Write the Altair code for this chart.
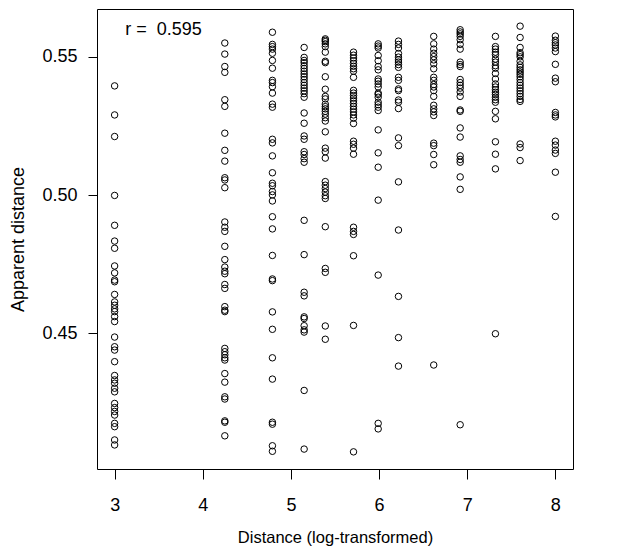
import altair as alt
import pandas as pd

# Distance levels (log-transformed) and apparent-distance values per level
x_levels = [3.0, 4.25, 4.79, 5.15, 5.39, 5.71, 5.99, 6.22, 6.62, 6.92, 7.32, 7.60, 8.0]

y_3_00 = [0.5395, 0.5290, 0.5212, 0.4999, 0.4891, 0.4834, 0.4808, 0.4744, 0.4719, 0.4693,
          0.4687, 0.4641, 0.4614, 0.4602, 0.4589, 0.4579, 0.4561, 0.4543, 0.4487, 0.4452,
          0.4440, 0.4398, 0.4348, 0.4332, 0.4320, 0.4302, 0.4289, 0.4247, 0.4232, 0.4218,
          0.4205, 0.4175, 0.4163, 0.4115, 0.4097]
y_4_25 = [0.5550, 0.5510, 0.5465, 0.5444, 0.5345, 0.5321, 0.5224, 0.5162, 0.5123, 0.5063,
          0.5055, 0.5027, 0.4903, 0.4884, 0.4869, 0.4815, 0.4767, 0.4740, 0.4725, 0.4716,
          0.4677, 0.4663, 0.4597, 0.4584, 0.4579, 0.4446, 0.4434, 0.4423, 0.4412, 0.4404,
          0.4355, 0.4324, 0.4271, 0.4263, 0.4184, 0.4179, 0.4130]
y_4_79 = [0.5589, 0.5545, 0.5537, 0.5528, 0.5513, 0.5487, 0.5459, 0.5415, 0.5407, 0.5392,
          0.5369, 0.5329, 0.5318, 0.5202, 0.5189, 0.5142, 0.5081, 0.5043, 0.5034, 0.5013,
          0.5001, 0.4979, 0.4922, 0.4878, 0.4782, 0.4697, 0.4691, 0.4578, 0.4515, 0.4412,
          0.4335, 0.4179, 0.4172, 0.4094, 0.4074]
y_5_15 = [0.5534, 0.5498, 0.5487, 0.5479, 0.5468, 0.5458, 0.5448, 0.5438, 0.5428, 0.5418,
          0.5407, 0.5397, 0.5387, 0.5377, 0.5367, 0.5354, 0.5297, 0.5260, 0.5214, 0.5202,
          0.5157, 0.5147, 0.5132, 0.5119, 0.4909, 0.4785, 0.4649, 0.4636, 0.4560, 0.4554,
          0.4528, 0.4513, 0.4505, 0.4294, 0.4082]
y_5_39 = [0.5565, 0.5560, 0.5555, 0.5547, 0.5537, 0.5517, 0.5484, 0.5479, 0.5428, 0.5383,
          0.5357, 0.5348, 0.5329, 0.5320, 0.5312, 0.5303, 0.5293, 0.5280, 0.5268, 0.5229,
          0.5170, 0.5157, 0.5134, 0.5049, 0.5036, 0.5024, 0.5011, 0.4998, 0.4988, 0.4886,
          0.4735, 0.4721, 0.4527, 0.4479]
y_5_71 = [0.5517, 0.5506, 0.5496, 0.5486, 0.5476, 0.5466, 0.5457, 0.5448, 0.5426, 0.5379,
          0.5369, 0.5360, 0.5351, 0.5341, 0.5331, 0.5321, 0.5311, 0.5301, 0.5290, 0.5278,
          0.5259, 0.5195, 0.5184, 0.5170, 0.5148, 0.4884, 0.4869, 0.4858, 0.4781, 0.4529,
          0.4072]
y_5_99 = [0.5547, 0.5539, 0.5532, 0.5505, 0.5486, 0.5465, 0.5453, 0.5420, 0.5412, 0.5402,
          0.5391, 0.5369, 0.5364, 0.5354, 0.5336, 0.5327, 0.5318, 0.5306, 0.5236, 0.5153,
          0.5101, 0.4982, 0.4711, 0.4175, 0.4155]
y_6_22 = [0.5557, 0.5545, 0.5532, 0.5512, 0.5499, 0.5489, 0.5481, 0.5472, 0.5462, 0.5426,
          0.5415, 0.5384, 0.5378, 0.5344, 0.5336, 0.5313, 0.5207, 0.5179, 0.5048, 0.4874,
          0.4634, 0.4485, 0.4382]
y_6_62 = [0.5574, 0.5547, 0.5528, 0.5513, 0.5501, 0.5489, 0.5475, 0.5457, 0.5426, 0.5415,
          0.5400, 0.5391, 0.5378, 0.5357, 0.5325, 0.5312, 0.5301, 0.5288, 0.5188, 0.5179,
          0.5147, 0.5110, 0.4386]
y_6_92 = [0.5598, 0.5590, 0.5583, 0.5574, 0.5562, 0.5545, 0.5528, 0.5481, 0.5472, 0.5465,
          0.5418, 0.5407, 0.5397, 0.5387, 0.5373, 0.5357, 0.5308, 0.5303, 0.5243, 0.5210,
          0.5142, 0.5129, 0.5119, 0.5066, 0.5021, 0.4170]
y_7_32 = [0.5574, 0.5537, 0.5528, 0.5517, 0.5508, 0.5492, 0.5481, 0.5468, 0.5459, 0.5440,
          0.5420, 0.5402, 0.5391, 0.5381, 0.5372, 0.5364, 0.5354, 0.5345, 0.5336, 0.5303,
          0.5276, 0.5193, 0.5148, 0.5095, 0.4499]
y_7_60 = [0.5611, 0.5570, 0.5534, 0.5515, 0.5508, 0.5500, 0.5484, 0.5471, 0.5462, 0.5453,
          0.5445, 0.5437, 0.5428, 0.5418, 0.5407, 0.5397, 0.5387, 0.5377, 0.5367, 0.5357,
          0.5346, 0.5339, 0.5185, 0.5172, 0.5125]
y_8_00 = [0.5575, 0.5560, 0.5551, 0.5543, 0.5532, 0.5519, 0.5473, 0.5423, 0.5410, 0.5299,
          0.5290, 0.5283, 0.5195, 0.5181, 0.5163, 0.5151, 0.5083, 0.4923]

y_groups = [y_3_00, y_4_25, y_4_79, y_5_15, y_5_39, y_5_71, y_5_99, y_6_22,
            y_6_62, y_6_92, y_7_32, y_7_60, y_8_00]

x_ticks = [3, 4, 5, 6, 7, 8]
y_ticks = [0.45, 0.50, 0.55]
x_domain = [2.8, 8.2]
y_domain = [0.4010, 0.5673]

annot_text = ["r =\u00a0 0.595"]
annot_x = [3.12]
annot_y = [0.5598]

rows = []
for xv, ys in zip(x_levels, y_groups):
    for yv in ys:
        rows.append({"dist": xv, "app": yv})
df = pd.DataFrame(rows)

FONT = "Liberation Sans"
LABEL_FS = 18

xs = alt.Scale(domain=x_domain, nice=False, zero=False)
ys_ = alt.Scale(domain=y_domain, nice=False, zero=False)

common = dict(grid=False, domain=False, tickColor="black", tickWidth=1,
              labelColor="black", labelFont=FONT, labelFontSize=LABEL_FS,
              titleFont=FONT, titleFontWeight="normal", titleColor="black")

points = alt.Chart(df).mark_point(
    shape="circle", filled=False, color="black", size=42, strokeWidth=1, opacity=1
).encode(
    x=alt.X("dist:Q", scale=xs,
            axis=alt.Axis(values=x_ticks, title="Distance (log-transformed)",
                          tickSize=10, labelPadding=17, titlePadding=15,
                          titleFontSize=16.5, format="d", **common)),
    y=alt.Y("app:Q", scale=ys_,
            axis=alt.Axis(values=y_ticks, title="Apparent distance", format=".2f",
                          tickSize=9, labelPadding=11, titleX=-70,
                          titleFontSize=18, **common)),
)

ann_df = pd.DataFrame({"x": annot_x, "y": annot_y, "t": annot_text})
ann = alt.Chart(ann_df).mark_text(
    align="left", baseline="middle", fontSize=18, font=FONT, color="black"
).encode(x=alt.X("x:Q", scale=xs), y=alt.Y("y:Q", scale=ys_), text="t:N")

chart = alt.layer(points, ann).properties(
    width=476, height=460,
    background="white",
    autosize=alt.AutoSizeParams(type="none"),
    padding={"left": 89, "top": 1, "right": 30, "bottom": 80},
).configure_view(
    stroke="black", strokeWidth=1, fill="white"
)

chart.save("out.html", embed_options={"renderer": "svg", "actions": False})
